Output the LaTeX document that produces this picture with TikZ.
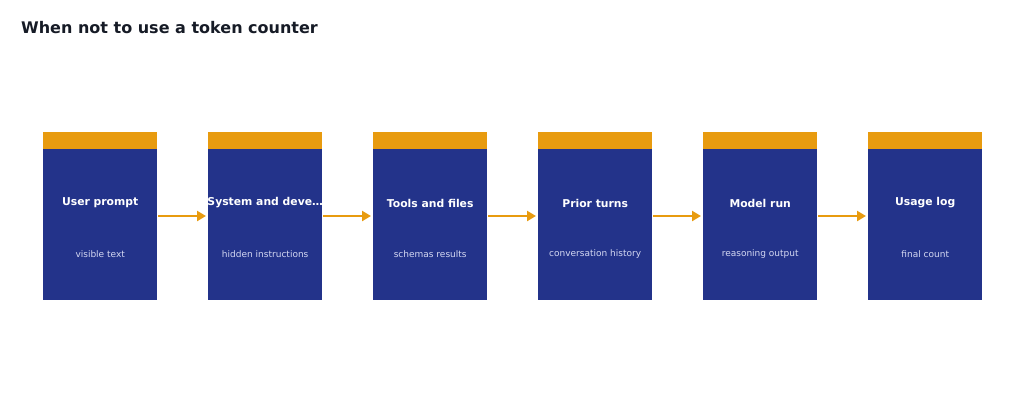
\documentclass[tikz,border=0pt]{standalone}
\usepackage{fontspec}
\setmainfont{DejaVu Sans}
\usetikzlibrary{positioning,arrows.meta}
\definecolor{boxblue}{HTML}{23338A}
\definecolor{capor}{HTML}{E89B0F}
\definecolor{titleink}{HTML}{161B26}
\definecolor{subink}{HTML}{D4D8F2}
\tikzset{
  stage/.style={fill=boxblue, minimum width=114pt, minimum height=151pt, inner sep=0pt, anchor=north west},
  stagecap/.style={fill=capor, minimum width=114pt, minimum height=17pt, inner sep=0pt, anchor=south},
  flow/.style={-{Triangle[length=9pt,width=10pt]}, draw=capor, line width=2.6pt, shorten >=2pt, shorten <=1pt}
}
\begin{document}
\begin{tikzpicture}[x=1pt,y=-1pt]
\useasboundingbox (0,0) rectangle (1024,405);
\node[anchor=west, inner sep=0pt, font=\bfseries\fontsize{16}{18}\selectfont, text=titleink] (title) at (21,28) {When not to use a token counter};

\foreach \i/\name/\head/\sub in {0/user/User prompt/visible text, 1/system/System and deve…/hidden instructions, 2/tools/Tools and files/schemas results, 3/prior/Prior turns/conversation history, 4/model/Model run/reasoning output, 5/usage/Usage log/final count} {
  \node[stage] (\name) at (43+165*\i,149) {};
  \node[stagecap] (\name cap) at (\name.north) {};
  \node[text=white, font=\bfseries\fontsize{10.8}{12}\selectfont] (\name head) at ([yshift=-54pt]\name.north) {\head};
  \node[text=subink, font=\fontsize{9}{10}\selectfont] (\name sub) at ([yshift=-105pt]\name.north) {\sub};
}

% connectors
\draw[flow] ([yshift=-67pt]user.north east) -- ([yshift=-67pt]system.north west);
\draw[flow] ([yshift=-67pt]system.north east) -- ([yshift=-67pt]tools.north west);
\draw[flow] ([yshift=-67pt]tools.north east) -- ([yshift=-67pt]prior.north west);
\draw[flow] ([yshift=-67pt]prior.north east) -- ([yshift=-67pt]model.north west);
\draw[flow] ([yshift=-67pt]model.north east) -- ([yshift=-67pt]usage.north west);
\end{tikzpicture}
\end{document}
